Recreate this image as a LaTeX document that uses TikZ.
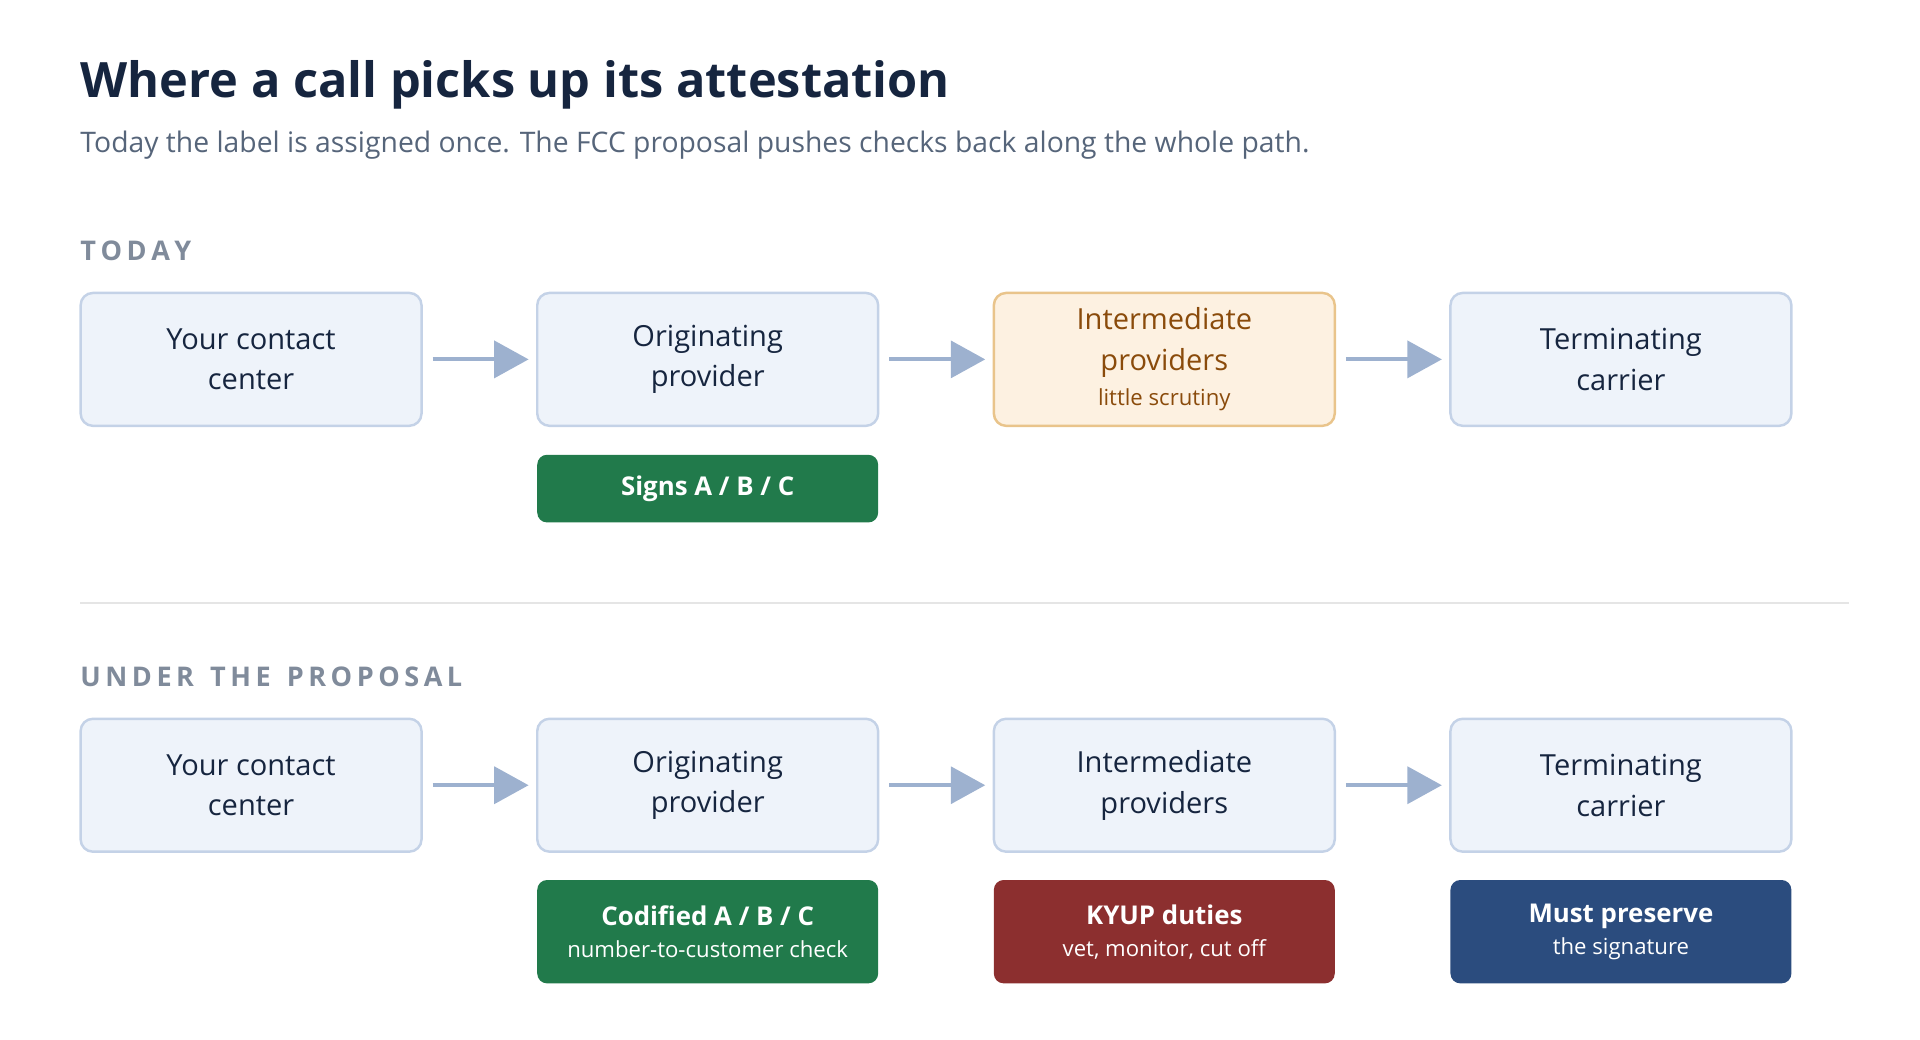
\documentclass[tikz,border=0pt]{standalone}
\usepackage{fontspec}
\setmainfont{Open Sans}
\usetikzlibrary{positioning,arrows.meta}
\definecolor{ink}{HTML}{16253F}
\definecolor{subink}{HTML}{56657A}
\definecolor{headgray}{HTML}{808B9B}
\definecolor{boxfill}{HTML}{EEF3FA}
\definecolor{boxline}{HTML}{C4D2E7}
\definecolor{warmfill}{HTML}{FDF1E1}
\definecolor{warmline}{HTML}{E9C48B}
\definecolor{warmink}{HTML}{8A4B0B}
\definecolor{arrowc}{HTML}{9DB1CF}
\definecolor{okgreen}{HTML}{217A4B}
\definecolor{dutyred}{HTML}{8C2F2F}
\definecolor{navyb}{HTML}{2B4C7E}
\tikzset{
  stage/.style={draw=boxline,fill=boxfill,line width=1pt,rounded corners=5pt,minimum width=138.5pt,minimum height=54pt,align=center,text=ink,font=\fontsize{11.8}{16.5}\selectfont},
  badge/.style={rounded corners=4pt,minimum width=138.5pt,align=center,text=white,font=\fontsize{10.5}{15}\selectfont\bfseries},
  flow/.style={arrowc,line width=1.6pt,-{Triangle[length=14pt,width=15pt]},shorten <=4pt,shorten >=3pt},
  head/.style={anchor=west,text=headgray,font=\fontsize{11}{13}\selectfont\bfseries}
}
\newcommand{\subline}[1]{\\[-2pt]{\fontsize{9}{12}\selectfont\mdseries #1}}

\begin{document}
\begin{tikzpicture}[x=0.5pt,y=0.5pt,yscale=-1,xscale=1]

\useasboundingbox (0,0) rectangle (1560,845);

\node [anchor=base west,inner sep=0,text=ink,font=\fontsize{19.8}{24}\selectfont\bfseries] (title) at (65,79) {Where a call picks up its attestation};
\node [anchor=base west,inner sep=0,text=subink,font=\fontsize{11.5}{15}\selectfont] (subtitle) at (65,124) {Today the label is assigned once. The FCC proposal pushes checks back along the whole path.};

% today
\node [head,inner sep=0] (today) at (65,204) {T\,O\,D\,A\,Y};
\node [stage] (a1) at (204,292) {Your contact\\center};
\node [stage] (b1) at (575,292) {Originating\\provider};
\node [stage,fill=warmfill,draw=warmline,text=warmink] (c1) at (946,292) {Intermediate\\providers\subline{little scrutiny}};
\node [stage] (d1) at (1317,292) {Terminating\\carrier};
\draw [flow] (a1) -- (b1);
\draw [flow] (b1) -- (c1);
\draw [flow] (c1) -- (d1);
\node [badge,fill=okgreen,minimum height=27.5pt] (s1) at (575,397) {Signs A / B / C};

\draw [color=black!10,line width=1pt] (65,490) -- (1502,490);

% under the proposal
\node [head,inner sep=0] (proposal) at (65,550) {U\,N\,D\,E\,R\, \,T\,H\,E\, \,P\,R\,O\,P\,O\,S\,A\,L};
\node [stage] (a2) at (204,638) {Your contact\\center};
\node [stage] (b2) at (575,638) {Originating\\provider};
\node [stage] (c2) at (946,638) {Intermediate\\providers};
\node [stage] (d2) at (1317,638) {Terminating\\carrier};
\draw [flow] (a2) -- (b2);
\draw [flow] (b2) -- (c2);
\draw [flow] (c2) -- (d2);
\node [badge,fill=okgreen,minimum height=42pt] (s2) at (575,757) {Codified A / B / C\subline{number-to-customer check}};
\node [badge,fill=dutyred,minimum height=42pt] (k2) at (946,757) {KYUP duties\subline{vet, monitor, cut off}};
\node [badge,fill=navyb,minimum height=42pt] (m2) at (1317,757) {Must preserve\subline{the signature}};

\end{tikzpicture}
\end{document}
